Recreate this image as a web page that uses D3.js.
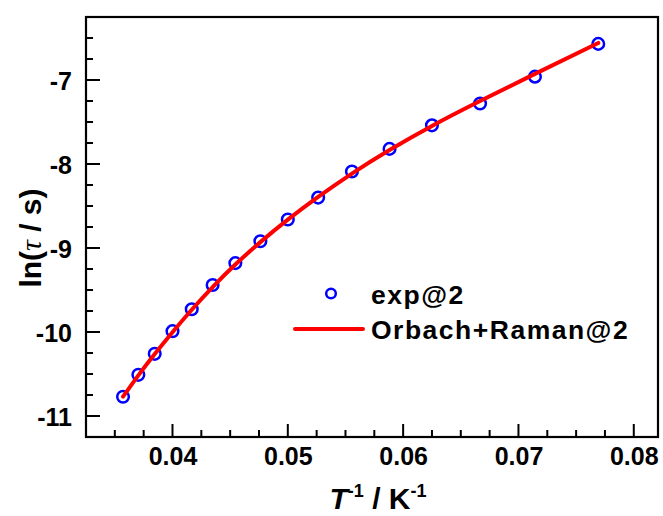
<!DOCTYPE html>
<html>
<head>
<meta charset="utf-8">
<script src="https://cdn.jsdelivr.net/npm/d3@7/dist/d3.min.js"></script>
<style>
  html, body { margin: 0; padding: 0; background: #fff; }
  svg { display: block; font-family: "Liberation Sans", Arial, sans-serif; }
</style>
</head>
<body>
<svg id="chart" width="663" height="516"></svg>
<script>
// Inverse temperature (1/K) for T = 28 K down to 13 K
const invT = [0.03571, 0.03704, 0.03846, 0.04000, 0.04167, 0.04348, 0.04545, 0.04762,
              0.05000, 0.05263, 0.05556, 0.05882, 0.06250, 0.06667, 0.07143, 0.07692];
// Measured ln(tau / s)
const lnTauExp = [-10.77, -10.51, -10.26, -9.99, -9.73, -9.44, -9.18, -8.92,
                  -8.66, -8.40, -8.09, -7.82, -7.54, -7.28, -6.96, -6.57];
// Orbach + Raman fit evaluated at the same temperatures
const lnTauFit = [-10.770, -10.516, -10.262, -10.002, -9.735, -9.465, -9.197, -8.930,
                  -8.663, -8.392, -8.114, -7.834, -7.547, -7.251, -6.927, -6.559];
const xTicks = [0.04, 0.05, 0.06, 0.07, 0.08];
const yTicks = [-11, -10, -9, -8, -7];
const seriesNames = ["exp@2", "Orbach+Raman@2"];

const svg = d3.select("#chart");
const L = 86, R = 658, T = 17, B = 437;

const x = d3.scaleLinear().domain([0.0325, 0.0821]).range([L, R]);
const y = d3.scaleLinear().domain([-11.25, -6.25]).range([B, T]);

const tickFont = 25;

// Minor ticks (inward)
const xMinor = d3.range(0.035, 0.0821, 0.0025).filter(v => !xTicks.some(t => Math.abs(t - v) < 1e-6));
const yMinor = d3.range(-11.25, -6.24, 0.25).filter(v => !yTicks.some(t => Math.abs(t - v) < 1e-6) && v > -11.24 && v < -6.26);

const g = svg.append("g");

// bottom axis: labels via d3.axisBottom, ticks drawn inward
const xAxis = g.append("g").attr("transform", `translate(0,${B})`)
  .call(d3.axisBottom(x).tickValues(xTicks).tickSize(0).tickPadding(27).tickFormat(d3.format(".2f")));
xAxis.select(".domain").remove();
xAxis.selectAll("text").attr("font-size", tickFont).attr("font-weight", "bold")
  .attr("font-family", "Liberation Sans, Arial, sans-serif").attr("fill", "#000").attr("dy", "0.02em");

const yAxis = g.append("g").attr("transform", `translate(${L},0)`)
  .call(d3.axisLeft(y).tickValues(yTicks).tickSize(0).tickPadding(14).tickFormat(d => String(d)));
yAxis.select(".domain").remove();
yAxis.selectAll("text").attr("font-size", tickFont).attr("font-weight", "bold")
  .attr("font-family", "Liberation Sans, Arial, sans-serif").attr("fill", "#000").attr("dy", "0.36em");

// inward tick marks
g.selectAll(".xmaj").data(xTicks).join("line")
  .attr("x1", d => x(d)).attr("x2", d => x(d)).attr("y1", B).attr("y2", B - 13)
  .attr("stroke", "#000").attr("stroke-width", 2);
g.selectAll(".xmin").data(xMinor).join("line")
  .attr("x1", d => x(d)).attr("x2", d => x(d)).attr("y1", B).attr("y2", B - 7)
  .attr("stroke", "#000").attr("stroke-width", 2);
g.selectAll(".ymaj").data(yTicks).join("line")
  .attr("x1", L).attr("x2", L + 14).attr("y1", d => y(d)).attr("y2", d => y(d))
  .attr("stroke", "#000").attr("stroke-width", 2);
g.selectAll(".ymin").data(yMinor).join("line")
  .attr("x1", L).attr("x2", L + 7).attr("y1", d => y(d)).attr("y2", d => y(d))
  .attr("stroke", "#000").attr("stroke-width", 2);

// frame
g.append("rect").attr("x", L).attr("y", T).attr("width", R - L).attr("height", B - T)
  .attr("fill", "none").attr("stroke", "#000").attr("stroke-width", 2.2);

// experimental points
const pts = invT.map((v, i) => [v, lnTauExp[i]]);
g.selectAll(".pt").data(pts).join("circle")
  .attr("cx", d => x(d[0])).attr("cy", d => y(d[1])).attr("r", 5.8)
  .attr("fill", "none").attr("stroke", "#0000ff").attr("stroke-width", 2.5);

// fit curve
const fit = invT.map((v, i) => [v, lnTauFit[i]]);
g.append("path").datum(fit)
  .attr("d", d3.line().x(d => x(d[0])).y(d => y(d[1])).curve(d3.curveNatural))
  .attr("fill", "none").attr("stroke", "#ff0000").attr("stroke-width", 4).attr("stroke-linecap", "round");

// legend
const leg = g.append("g");
leg.append("circle").attr("cx", 331).attr("cy", 293.5).attr("r", 4.8)
  .attr("fill", "none").attr("stroke", "#0000ff").attr("stroke-width", 2.5);
leg.append("line").attr("x1", 295).attr("x2", 363).attr("y1", 329).attr("y2", 329)
  .attr("stroke", "#ff0000").attr("stroke-width", 4).attr("stroke-linecap", "round");
leg.selectAll("text").data(seriesNames).join("text")
  .attr("x", 371).attr("y", (d, i) => 304 + i * 35)
  .attr("font-size", 26.5).attr("font-weight", "bold").attr("letter-spacing", 1.5)
  .attr("fill", "#000").text(d => d);

// axis titles
const xt = svg.append("text").attr("x", 378).attr("y", 509).attr("text-anchor", "middle")
  .attr("font-size", 30).attr("font-weight", "bold").attr("fill", "#000");
xt.append("tspan").attr("font-style", "italic").text("T");
xt.append("tspan").attr("font-size", 18).attr("dy", -12).text("-1");
xt.append("tspan").attr("dy", 12).text(" / K");
xt.append("tspan").attr("font-size", 18).attr("dy", -12).text("-1");

const yt = svg.append("text").attr("transform", "translate(41,238) rotate(-90)")
  .attr("text-anchor", "middle").attr("font-size", 30).attr("font-weight", "bold").attr("fill", "#000");
yt.append("tspan").text("ln(");
yt.append("tspan").attr("font-style", "italic").attr("font-weight", "normal")
  .attr("font-family", "Liberation Serif, Times New Roman, serif").text("τ");
yt.append("tspan").text(" / s)");
</script>
</body>
</html>
